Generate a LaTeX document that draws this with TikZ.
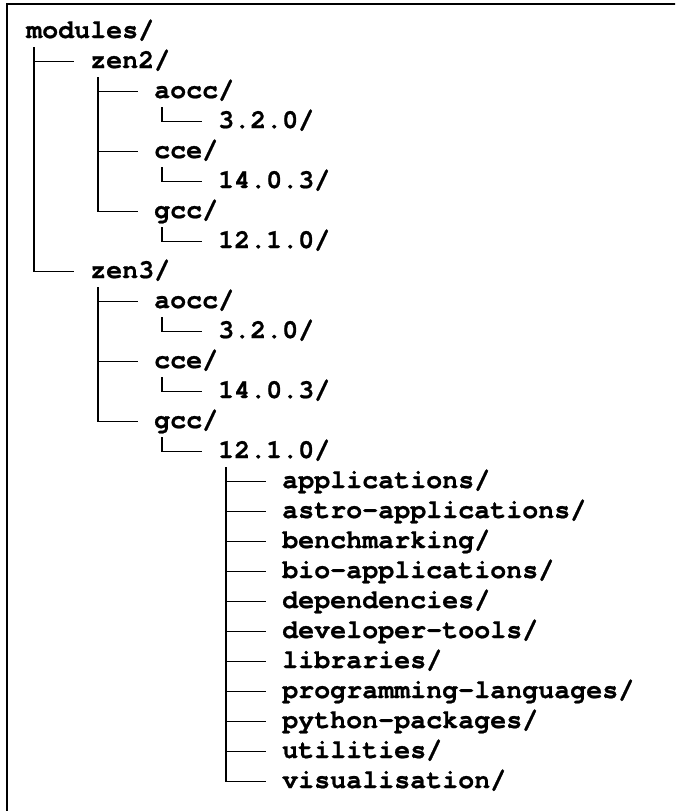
\documentclass[tikz,border=0pt]{standalone}
\usepackage{fontspec}
\newfontfamily\dirfont{TeX Gyre Cursor}[BoldFeatures={FakeBold=0.8}]
\usetikzlibrary{calc}

\tikzset{
  dir/.style={anchor=base west, inner sep=0pt,
    font=\dirfont\bfseries\fontsize{26.67}{30}\selectfont},
  branch/.style={line width=1.7pt},
}

\begin{document}
\begin{tikzpicture}[x=1pt,y=1pt]
  \useasboundingbox (0,0) rectangle (675,-811);
  % frame, cut off at the right and bottom
  \begin{scope}
    \clip (0,0) rectangle (675,-811);
    \draw [line width=2pt] (7,-4) rectangle (690,-830);
  \end{scope}

  \node [dir] at (26,-38) (modules) {modules/};
  \node [dir] at (90,-68) (zen2) {zen2/};
  \node [dir] at (154,-98) (zen2aocc) {aocc/};
  \node [dir] at (218,-128) (zen2aoccv) {3.2.0/};
  \node [dir] at (154,-158) (zen2cce) {cce/};
  \node [dir] at (218,-188) (zen2ccev) {14.0.3/};
  \node [dir] at (154,-218) (zen2gcc) {gcc/};
  \node [dir] at (218,-248) (zen2gccv) {12.1.0/};
  \node [dir] at (90,-278) (zen3) {zen3/};
  \node [dir] at (154,-308) (zen3aocc) {aocc/};
  \node [dir] at (218,-338) (zen3aoccv) {3.2.0/};
  \node [dir] at (154,-368) (zen3cce) {cce/};
  \node [dir] at (218,-398) (zen3ccev) {14.0.3/};
  \node [dir] at (154,-428) (zen3gcc) {gcc/};
  \node [dir] at (218,-458) (zen3gccv) {12.1.0/};
  \node [dir] at (282,-488) (apps) {applications/};
  \node [dir] at (282,-518) (astro) {astro-applications/};
  \node [dir] at (282,-548) (bench) {benchmarking/};
  \node [dir] at (282,-578) (bio) {bio-applications/};
  \node [dir] at (282,-608) (deps) {dependencies/};
  \node [dir] at (282,-638) (devtools) {developer-tools/};
  \node [dir] at (282,-668) (libs) {libraries/};
  \node [dir] at (282,-698) (langs) {programming-languages/};
  \node [dir] at (282,-728) (pypkgs) {python-packages/};
  \node [dir] at (282,-758) (utils) {utilities/};
  \node [dir] at (282,-788) (vis) {visualisation/};

  % branches: down from the parent's first letter, across to the child
  \draw [branch] (modules.base west) ++(8,-9) |- ($(zen2.base west)+(-16,6.5)$);
  \draw [branch] (modules.base west) ++(8,-9) |- ($(zen3.base west)+(-16,6.5)$);
  \draw [branch] (zen2.base west) ++(8,-9) |- ($(zen2aocc.base west)+(-16,6.5)$);
  \draw [branch] (zen2.base west) ++(8,-9) |- ($(zen2cce.base west)+(-16,6.5)$);
  \draw [branch] (zen2.base west) ++(8,-9) |- ($(zen2gcc.base west)+(-16,6.5)$);
  \draw [branch] (zen2aocc.base west) ++(8,-9) |- ($(zen2aoccv.base west)+(-16,6.5)$);
  \draw [branch] (zen2cce.base west) ++(8,-9) |- ($(zen2ccev.base west)+(-16,6.5)$);
  \draw [branch] (zen2gcc.base west) ++(8,-9) |- ($(zen2gccv.base west)+(-16,6.5)$);
  \draw [branch] (zen3.base west) ++(8,-9) |- ($(zen3aocc.base west)+(-16,6.5)$);
  \draw [branch] (zen3.base west) ++(8,-9) |- ($(zen3cce.base west)+(-16,6.5)$);
  \draw [branch] (zen3.base west) ++(8,-9) |- ($(zen3gcc.base west)+(-16,6.5)$);
  \draw [branch] (zen3aocc.base west) ++(8,-9) |- ($(zen3aoccv.base west)+(-16,6.5)$);
  \draw [branch] (zen3cce.base west) ++(8,-9) |- ($(zen3ccev.base west)+(-16,6.5)$);
  \draw [branch] (zen3gcc.base west) ++(8,-9) |- ($(zen3gccv.base west)+(-16,6.5)$);
  \draw [branch] (zen3gccv.base west) ++(8,-9) |- ($(apps.base west)+(-16,6.5)$);
  \draw [branch] (zen3gccv.base west) ++(8,-9) |- ($(astro.base west)+(-16,6.5)$);
  \draw [branch] (zen3gccv.base west) ++(8,-9) |- ($(bench.base west)+(-16,6.5)$);
  \draw [branch] (zen3gccv.base west) ++(8,-9) |- ($(bio.base west)+(-16,6.5)$);
  \draw [branch] (zen3gccv.base west) ++(8,-9) |- ($(deps.base west)+(-16,6.5)$);
  \draw [branch] (zen3gccv.base west) ++(8,-9) |- ($(devtools.base west)+(-16,6.5)$);
  \draw [branch] (zen3gccv.base west) ++(8,-9) |- ($(libs.base west)+(-16,6.5)$);
  \draw [branch] (zen3gccv.base west) ++(8,-9) |- ($(langs.base west)+(-16,6.5)$);
  \draw [branch] (zen3gccv.base west) ++(8,-9) |- ($(pypkgs.base west)+(-16,6.5)$);
  \draw [branch] (zen3gccv.base west) ++(8,-9) |- ($(utils.base west)+(-16,6.5)$);
  \draw [branch] (zen3gccv.base west) ++(8,-9) |- ($(vis.base west)+(-16,6.5)$);
\end{tikzpicture}
\end{document}
